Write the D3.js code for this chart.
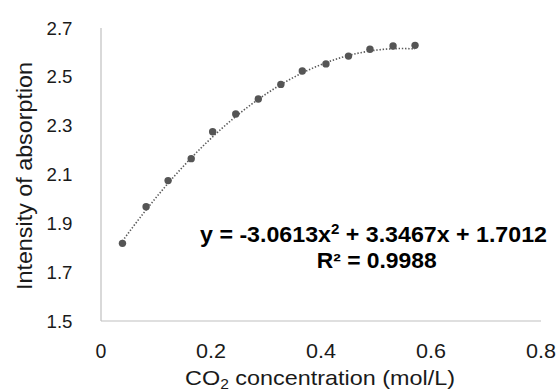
<!DOCTYPE html>
<html>
<head>
<meta charset="utf-8">
<script src="https://cdn.jsdelivr.net/npm/d3@7"></script>
<style>
  html, body { margin: 0; padding: 0; background: #fff; }
  svg { display: block; font-family: "Liberation Sans", Arial, sans-serif; }
</style>
</head>
<body>
<svg id="chart" width="558" height="392"></svg>
<script>
// Data
const concentration = [0.039, 0.082, 0.122, 0.164, 0.203, 0.245, 0.286, 0.327, 0.366, 0.409, 0.450, 0.489, 0.531, 0.571];
const absorption    = [1.818, 1.968, 2.075, 2.165, 2.275, 2.348, 2.409, 2.469, 2.524, 2.553, 2.585, 2.613, 2.626, 2.629];
const trendCoefficients = [-3.0613, 3.3467, 1.7012]; // a x^2 + b x + c
const xTicks = [0, 0.2, 0.4, 0.6, 0.8];
const yTicks = [1.5, 1.7, 1.9, 2.1, 2.3, 2.5, 2.7];
const equationLines = ["y = -3.0613x", "R² = 0.9988"];

const svg = d3.select("#chart");
const x = d3.scaleLinear().domain([0, 0.8]).range([101, 541]);
const y = d3.scaleLinear().domain([1.5, 2.7]).range([321, 28]);

// stretch a text group horizontally to a target width around its anchor
function fitWidth(g, target) {
  const w = g.node().getBBox().width;
  const t = g.attr("data-t");
  g.attr("transform", t + " scale(" + (target / w) + ",1)");
}

// axes lines
svg.append("line").attr("x1", x(0)).attr("x2", x(0.8)).attr("y1", y(1.5)).attr("y2", y(1.5))
  .attr("stroke", "#c0c0c0").attr("stroke-width", 1.2);
svg.append("line").attr("x1", x(0)).attr("x2", x(0)).attr("y1", y(1.5)).attr("y2", y(2.7))
  .attr("stroke", "#c0c0c0").attr("stroke-width", 1.2);

// tick labels
svg.append("g").selectAll("text").data(xTicks).join("text")
  .attr("x", d => x(d)).attr("y", 358)
  .attr("text-anchor", "middle").attr("font-size", 19.5).attr("fill", "#1a1a1a")
  .text(d => d === 0 ? "0" : d3.format(".1f")(d))
  .each(function (d) {
    if (d !== 0) d3.select(this).attr("textLength", 30).attr("lengthAdjust", "spacingAndGlyphs");
  });
svg.append("g").selectAll("text").data(yTicks).join("text")
  .attr("x", 72.5).attr("y", d => y(d)).attr("dy", "0.35em")
  .attr("text-anchor", "end").attr("font-size", 18.7).attr("fill", "#1a1a1a")
  .text(d => d3.format(".1f")(d));

// axis titles
const xtg = svg.append("g").attr("data-t", "translate(320,385)");
const xt = xtg.append("text").attr("x", 0).attr("y", 0).attr("text-anchor", "middle")
  .attr("font-size", 21).attr("fill", "#1a1a1a");
xt.append("tspan").text("CO");
xt.append("tspan").attr("font-size", 14).attr("dy", 3.5).text("2");
xt.append("tspan").attr("dy", -3.5).text(" concentration (mol/L)");
fitWidth(xtg, 270);

svg.append("text").attr("transform", "translate(32,176) rotate(-90)")
  .attr("text-anchor", "middle").attr("font-size", 21.5).attr("fill", "#1a1a1a")
  .attr("textLength", 228).attr("lengthAdjust", "spacingAndGlyphs")
  .text("Intensity of absorption");

// trendline
const [a, b, c] = trendCoefficients;
const x0 = concentration[0], x1 = concentration[concentration.length - 1];
const xs = d3.range(0, 101).map(i => x0 + (x1 - x0) * i / 100);
svg.append("path")
  .attr("d", d3.line().x(d => x(d)).y(d => y(a * d * d + b * d + c))(xs))
  .attr("fill", "none").attr("stroke", "#595959").attr("stroke-width", 1.6)
  .attr("stroke-dasharray", "1.4,1.8");

// points
svg.append("g").selectAll("circle").data(concentration).join("circle")
  .attr("cx", d => x(d)).attr("cy", (d, i) => y(absorption[i]))
  .attr("r", 3.7).attr("fill", "#555555");

// equation
const eqg = svg.append("g").attr("data-t", "translate(373.5,241.5)");
const eq = eqg.append("text").attr("x", 0).attr("y", 0).attr("text-anchor", "middle")
  .attr("font-size", 21.5).attr("font-weight", "bold").attr("fill", "#000");
eq.append("tspan").text(equationLines[0]);
eq.append("tspan").attr("font-size", 14).attr("dy", -8).text("2");
eq.append("tspan").attr("dy", 8).text(" + 3.3467x + 1.7012");
fitWidth(eqg, 347);

svg.append("text").attr("x", 376.7).attr("y", 268).attr("text-anchor", "middle")
  .attr("font-size", 21.5).attr("font-weight", "bold").attr("fill", "#000")
  .attr("textLength", 120).attr("lengthAdjust", "spacingAndGlyphs")
  .text(equationLines[1]);
</script>
</body>
</html>
